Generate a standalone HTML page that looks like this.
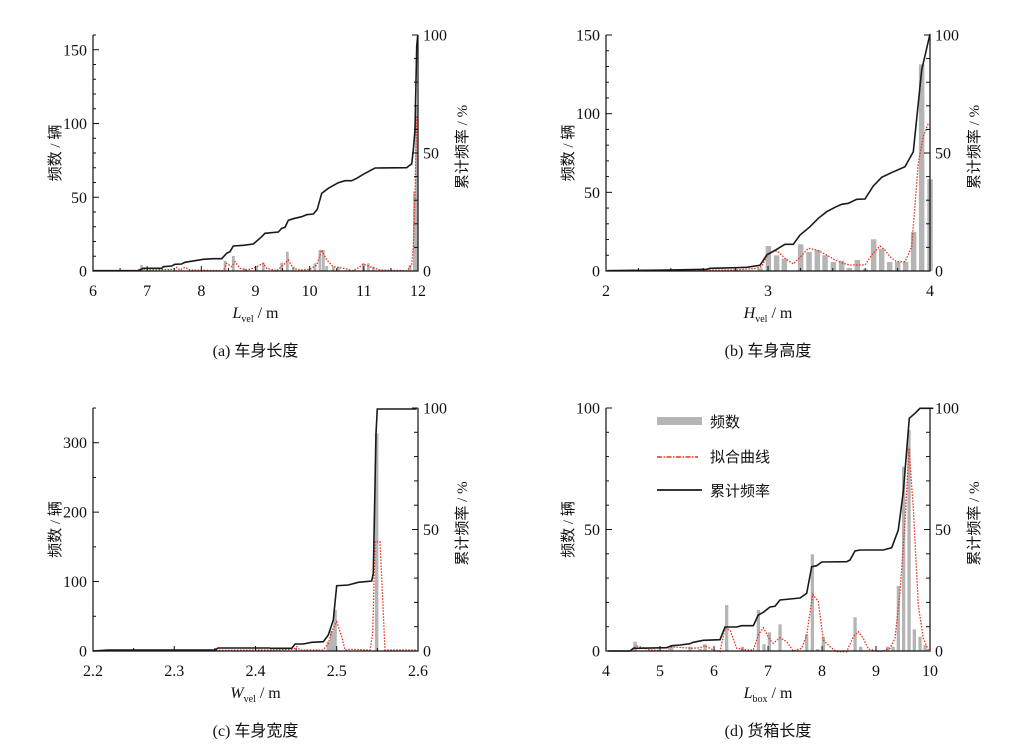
<!DOCTYPE html>
<html><head><meta charset="utf-8"><style>
body{margin:0;background:#fff;}
svg{display:block;}
text{font-family:"Liberation Serif","Noto Serif CJK SC",serif;fill:#111;}
.cj{font-family:"Liberation Serif","Noto Sans CJK SC",sans-serif;}
</style></head><body>
<svg id="s" width="1025" height="752" viewBox="0 0 1025 752" xmlns="http://www.w3.org/2000/svg"></svg>
<script>
const S=document.getElementById('s');let h='';
function pl(pts,ox,oy,st){return '<polyline fill="none" '+st+' points="'+pts.map(p=>(ox+p[0]/3).toFixed(1)+','+(oy+p[1]/3).toFixed(1)).join(' ')+'"/>';}
function bars(b,ox,oy,w,base){return b.map(p=>{const x=ox+p[0]/3,y=oy+p[1]/3;return '<rect x="'+(x-w/2).toFixed(1)+'" y="'+y.toFixed(1)+'" width="'+w+'" height="'+(base-y).toFixed(1)+'" fill="#b5b5b5"/>';}).join('');}
const RED='stroke="#e8301c" stroke-width="1.3" stroke-dasharray="1.5,1.5"';
const BLK='stroke="#1a1a1a" stroke-width="1.6"';
function frame(o){
 let s='';const {x0,x1,y0,y1}=o;
 s+='<path d="M'+x0+','+y1+'V'+y0+'H'+x1+'V'+y1+'" fill="none" stroke="#111" stroke-width="1.2"/>';
 o.xt.forEach(t=>{const x=x0+(t-o.xa)/(o.xb-o.xa)*(x1-x0);const maj=o.xl.includes(t);s+='<line x1="'+x+'" y1="'+y0+'" x2="'+x+'" y2="'+(y0-(maj?5:3))+'" stroke="#111"/>';});
 o.xl.forEach(t=>{const x=x0+(t-o.xa)/(o.xb-o.xa)*(x1-x0);s+='<text x="'+x+'" y="'+(y0+25)+'" font-size="16" text-anchor="middle">'+t+'</text>';});
 o.yt.forEach(t=>{const y=y0-t/o.ym*(y0-y1);const maj=o.yl.includes(t);s+='<line x1="'+x0+'" y1="'+y+'" x2="'+(x0+(maj?6:3))+'" y2="'+y+'" stroke="#111"/>';});
 o.yl.forEach(t=>{const y=y0-t/o.ym*(y0-y1);s+='<text x="'+(x0-6)+'" y="'+(y+5.5)+'" font-size="16" text-anchor="end">'+t+'</text>';});
 for(let p=0;p<=100;p+=10){const y=y0-p/100*(y0-y1);s+='<line x1="'+x1+'" y1="'+y+'" x2="'+(x1-((p%50==0)?6:4))+'" y2="'+y+'" stroke="#111"/>';}
 [0,50,100].forEach(p=>{const y=y0-p/100*(y0-y1);s+='<text x="'+(x1+5)+'" y="'+(y+5.5)+'" font-size="16">'+p+'</text>';});
 const cy=(y0+y1)/2+0;
 s+='<text class="cj" transform="translate('+(x0-33)+','+cy+') rotate(-90)" font-size="15" text-anchor="middle">频数 / 辆</text>';
 s+='<text class="cj" transform="translate('+(x1+49)+','+(cy-6)+') rotate(-90)" font-size="15" text-anchor="middle">累计频率 / %</text>';
 const mx=(x0+x1)/2;
 s+='<text x="'+mx+'" y="'+(y0+47)+'" font-size="16" text-anchor="middle"><tspan font-style="italic">'+o.v+'</tspan><tspan font-size="10" dy="4">'+o.sub+'</tspan><tspan dy="-4"> / m</tspan></text>';
 s+='<text class="cj" x="'+mx+'" y="'+(y0+85)+'" font-size="16" text-anchor="middle">'+o.cap+'</text>';
 return s;}
function rng(a,b,st){const r=[];for(let v=a;v<=b+1e-9;v+=st)r.push(+v.toFixed(3));return r;}
// (a)
h+=bars([[185,735],[435,722],[460,708],[495,745],[530,738],[550,728],[605,728],[622,695],[640,740],[705,730],[720,690],[730,690],[740,738],[760,740],[775,740],[850,730],[865,730],[880,740],[990,735],[1003,515],[1010,260]],80,20,2.7,271);
h+=pl([[40,752],[170,752],[185,745],[200,750],[280,748],[290,742],[300,750],[315,742],[330,750],[430,752],[440,730],[455,740],[465,725],[480,745],[500,750],[520,745],[540,735],[550,730],[560,745],[590,752],[610,735],[625,720],[640,745],[660,750],[690,748],[710,735],[725,690],[740,720],[760,740],[790,745],[820,752],[840,740],[850,732],[870,740],[900,750],[980,752],[995,735],[1000,680],[1005,520],[1010,285]],80,20,RED);
h+=pl([[40,752],[175,752],[190,745],[245,745],[250,740],[275,738],[285,733],[305,732],[315,727],[370,718],[400,716],[425,716],[440,700],[450,695],[460,678],[490,676],[520,672],[545,650],[555,640],[595,636],[605,625],[615,622],[625,601],[640,596],[665,590],[680,584],[700,582],[712,568],[725,520],[745,505],[775,488],[795,482],[815,482],[830,475],[850,463],[870,452],[885,444],[980,443],[990,435],[995,432],[1000,390],[1005,330],[1010,80],[1013,47]],80,20,BLK);
h+=frame({x0:93,x1:418,y0:271,y1:35,xa:6,xb:12,xt:rng(6,12,0.5),xl:[6,7,8,9,10,11,12],ym:160,yt:rng(0,160,10),yl:[0,50,100,150],v:'L',sub:'vel',cap:'(a)  车身长度'});
// (b)
h+=bars([[510,745],[535,678],[560,706],[583,716],[632,673],[657,696],[682,690],[705,706],[730,726],[755,722],[778,744],[802,720],[826,748],[851,658],[875,686],[899,726],[923,726],[947,726],[971,636],[995,133],[1020,478]],590,20,5.5,271);
h+=pl([[52,752],[440,750],[500,745],[515,740],[535,700],[560,692],[585,715],[610,732],[630,712],[655,685],[680,690],[710,705],[735,720],[760,730],[780,735],[825,735],[845,705],[870,678],[885,690],[900,710],[920,725],[945,725],[965,680],[985,430],[1000,350],[1015,310]],590,20,RED);
h+=pl([[52,752],[230,750],[350,748],[360,745],[440,743],[470,742],[510,736],[530,705],[560,688],[585,673],[610,673],[630,645],[660,620],[685,595],[710,575],[735,562],[755,553],[775,550],[800,538],[825,537],[850,498],[875,472],[900,460],[945,440],[970,395],[995,150],[1020,42]],590,20,BLK);
h+=frame({x0:606,x1:930,y0:271,y1:35,xa:2,xb:4,xt:rng(2,4,0.2),xl:[2,3,4],ym:150,yt:rng(0,150,10),yl:[0,50,100,150],v:'H',sub:'vel',cap:'(b)  车身高度'});
// (c)
h+=bars([[175,725],[185,693],[195,630],[320,100]],270,400,3.5,651);
h+='<polyline fill="none" '+RED+' points="93,651 270,650"/>';
h+=pl([[0,750],[70,748],[80,740],[90,750],[160,750],[175,730],[185,695],[200,665],[215,710],[225,750],[240,748],[300,750],[308,700],[315,425],[330,425],[338,600],[345,750],[440,750]],270,400,RED);
h+='<polyline fill="none" '+BLK+' points="93,651 108,650 215,650 218,648 270,648"/>';
h+=pl([[0,745],[65,745],[75,732],[100,732],[125,727],[160,725],[175,705],[190,660],[200,557],[235,555],[265,547],[305,543],[310,520],[318,100],[322,27],[440,27]],270,400,BLK);
h+=frame({x0:93,x1:418,y0:651,y1:408,xa:2.2,xb:2.6,xt:rng(2.2,2.6,0.05),xl:[2.2,2.3,2.4,2.5,2.6],ym:350,yt:rng(0,350,50),yl:[0,100,200,300],v:'W',sub:'vel',cap:'(c)  车身宽度'});
// (d)
h+=bars([[135,740],[245,750],[300,755],[330,762],[345,748],[410,630],[457,755],[505,645],[522,748],[538,712],[570,688],[650,718],[667,478],[683,762],[700,725],[795,667],[812,755],[893,755],[909,755],[925,573],[941,215],[957,105],[973,703],[990,725],[1005,750]],590,395,3.3,651);
h+=pl([[55,768],[120,768],[140,753],[160,758],[180,765],[230,768],[245,755],[280,758],[310,760],[330,758],[345,752],[370,765],[390,770],[405,700],[420,705],[440,760],[470,765],[490,765],[505,720],[520,698],[540,735],[550,745],[570,728],[590,740],[610,768],[635,760],[650,720],[668,598],[685,620],[700,735],[720,755],[740,770],[770,770],[790,725],[805,710],[820,730],[835,762],[870,770],[900,760],[915,730],[930,590],[945,380],[957,160],[970,340],[985,630],[1000,730],[1015,765]],590,395,RED);
h+=pl([[55,768],[120,768],[130,760],[230,758],[245,752],[270,750],[300,746],[310,742],[340,736],[390,734],[405,696],[440,696],[455,692],[490,692],[505,660],[520,652],[540,636],[555,634],[570,615],[630,609],[650,595],[665,515],[680,512],[695,501],[770,500],[780,495],[795,468],[810,465],[880,465],[905,458],[925,405],[940,290],[958,70],[975,55],[990,40],[1030,40]],590,395,BLK);
h+=frame({x0:606,x1:930,y0:651,y1:408,xa:4,xb:10,xt:rng(4,10,1),xl:[4,5,6,7,8,9,10],ym:100,yt:rng(0,100,10),yl:[0,50,100],v:'L',sub:'box',cap:'(d)  货箱长度'});
// legend
h+='<rect x="657" y="417" width="45" height="8" fill="#b5b5b5"/><text class="cj" x="710" y="427" font-size="15">频数</text>';
h+='<line x1="657" y1="457" x2="698" y2="457" stroke="#e8301c" stroke-width="1.4" stroke-dasharray="5,1.5,1.5,1.5"/><text class="cj" x="710" y="462" font-size="15">拟合曲线</text>';
h+='<line x1="657" y1="490" x2="702" y2="490" stroke="#1a1a1a" stroke-width="1.8"/><text class="cj" x="710" y="496" font-size="15">累计频率</text>';
S.innerHTML=h;
</script>
</body></html>
